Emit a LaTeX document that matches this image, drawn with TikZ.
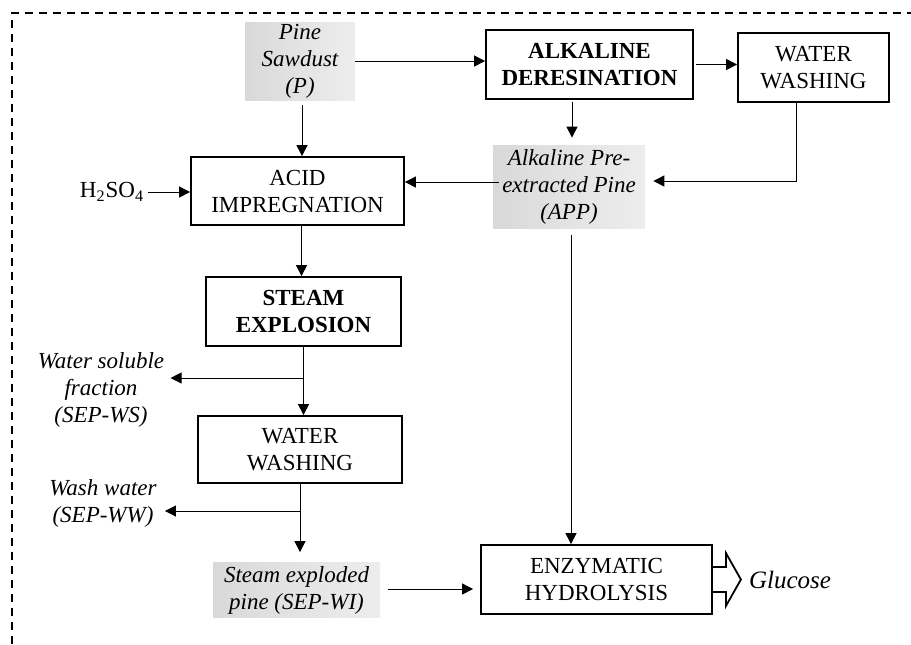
\documentclass[tikz,border=0pt]{standalone}
\usepackage{fontspec}
\setmainfont{Liberation Serif}
\usetikzlibrary{arrows.meta,positioning}

\begin{document}
\begin{tikzpicture}[x=0.5pt, y=-0.5pt]
		\tikzstyle{Process}	= [rectangle, draw, line width=0.9pt, align=center, inner sep=0pt, font=\fontsize{11.5}{13.5}\selectfont]
		\tikzstyle{Strong}	= [font=\fontsize{11.5}{13.5}\selectfont\bfseries]
		\tikzstyle{Stream}	= [rectangle, left color=black!15, right color=black!7, align=center, inner sep=0pt, font=\fontsize{11.5}{13.5}\selectfont\itshape]
		\tikzstyle{Side}	= [align=center, inner sep=0pt, font=\fontsize{11.5}{13.5}\selectfont\itshape]
		\tikzstyle{Flow}	= [-{Triangle[length=5.5pt, width=5.5pt]}, line width=0.5pt]

		\useasboundingbox (0,0) rectangle (911,644);
		\draw [dash pattern=on 4pt off 3pt, line width=0.6pt] (12,644) -- (12,13) -- (911,13);

		\node (P) at (300, 61) [Stream, minimum width=55pt, minimum height=39pt] {Pine\\Sawdust\\(P)};
		\node (ALK) at (589.5, 64.5) [Process, Strong, minimum width=103.5pt, minimum height=34.5pt] {ALKALINE\\DERESINATION};
		\node (WW1) at (813.5, 67.5) [Process, minimum width=75.5pt, minimum height=34.5pt] {WATER\\WASHING};
		\node (APP) at (569, 186.5) [Stream, minimum width=76pt, minimum height=41.5pt] {Alkaline Pre-\\extracted Pine\\(APP)};
		\node (ACID) at (297.5, 191) [Process, minimum width=106.5pt, minimum height=34pt] {ACID\\IMPREGNATION};
		\node (H2SO4) at (112, 192) [inner sep=0pt, font=\fontsize{11.5}{13.5}\selectfont] {H\textsubscript{2}SO\textsubscript{4}};
		\node (STEAM) at (303.5, 311.5) [Process, Strong, minimum width=97.5pt, minimum height=34.5pt] {STEAM\\EXPLOSION};
		\node (WS) at (101, 390) [Side] {Water soluble\\fraction\\(SEP-WS)};
		\node (WW2) at (300, 449.5) [Process, minimum width=102pt, minimum height=33.5pt] {WATER\\WASHING};
		\node (WWout) at (103, 503) [Side] {Wash water\\(SEP-WW)};
		\node (SEPWI) at (296.5, 590) [Stream, minimum width=83.5pt, minimum height=27.5pt] {Steam exploded\\pine (SEP-WI)};
		\node (ENZ) at (596.5, 579.5) [Process, minimum width=115.5pt, minimum height=34.5pt] {ENZYMATIC\\HYDROLYSIS};
		\node (GLU) at (790, 580) [inner sep=0pt, font=\fontsize{12.5}{15}\selectfont\itshape] {Glucose};

		\coordinate (jWS) at (303, 378);
		\coordinate (jWW) at (300, 511);

		\draw [Flow] (P.east) -- (P.east -| ALK.west);
		\draw [Flow, shorten <=1pt] (ALK.east) -- (ALK.east -| WW1.west);
		\draw [Flow, shorten <=1pt, shorten >=3.5pt] ([xshift=-8.75pt]ALK.south) -- ([xshift=-8.75pt]ALK.south |- APP.north);
		\draw [Flow, shorten >=4pt] ([xshift=-8.5pt]WW1.south) |- ([yshift=2.75pt]APP.east);
		\draw [Flow, shorten <=-3pt] ([yshift=4.5pt]ACID.east -| APP.west) -- ([yshift=4.5pt]ACID.east);
		\draw [Flow, shorten <=2pt] (H2SO4.east) -- (H2SO4.east -| ACID.west);
		\draw [Flow, shorten <=2.5pt] ([xshift=1pt]P.south) -- ([xshift=1pt]P.south |- ACID.north);
		\draw [Flow] ([xshift=2pt]ACID.south) -- ([xshift=2pt]ACID.south |- STEAM.north);
		\draw [Flow] (STEAM.south) -- (STEAM.south |- WW2.north);
		\draw [Flow, shorten >=3pt] (jWS) -- (jWS -| WS.east);
		\draw [Flow, shorten >=5pt] (WW2.south) -- (WW2.south |- SEPWI.north);
		\draw [Flow, shorten >=4pt] (jWW) -- (jWW -| WWout.east);
		\draw [Flow, shorten <=4pt, shorten >=3.5pt] ([yshift=-4.75pt]ENZ.west -| SEPWI.east) -- ([yshift=-4.75pt]ENZ.west);
		\draw [Flow, shorten <=3.5pt] ([xshift=1pt]APP.south) -- ([xshift=1pt]APP.south |- ENZ.north);

		\draw [line width=0.9pt] ([yshift=6.25pt]ENZ.east) -- ++(13,0) -- ++(0,-14) -- ++(15,26.5) -- ++(-15,26.5) -- ++(0,-14) -- ++(-13,0);
	\end{tikzpicture}
\end{document}
